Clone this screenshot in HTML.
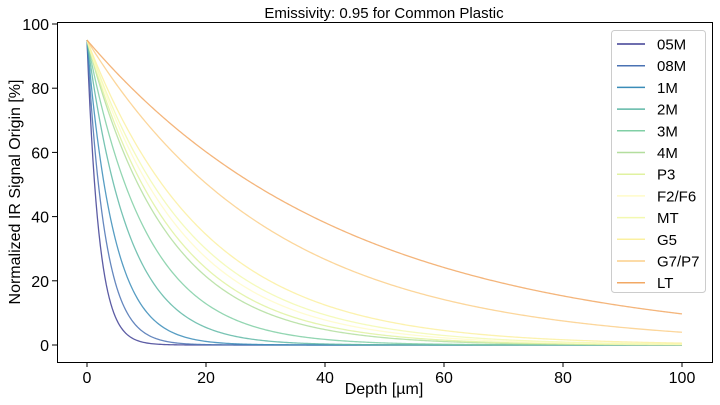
<!DOCTYPE html>
<html><head><meta charset="utf-8"><style>body{margin:0;background:#fff}svg{display:block}text{font-family:"Liberation Sans","DejaVu Sans",sans-serif;fill:#000}</style></head>
<body>
<svg id="s" width="720" height="405" viewBox="0 0 720 405" xmlns="http://www.w3.org/2000/svg">
<text x="384" y="18" font-size="15" text-anchor="middle">Emissivity: 0.95 for Common Plastic</text>
<g id="curves" fill="none" stroke-width="1.3" stroke-opacity="0.85"></g>
<rect x="57.5" y="22.5" width="655" height="340" fill="none" stroke="#000" stroke-width="1"/>
<g id="ticks" font-size="16"></g>
<text x="384" y="394" font-size="16" text-anchor="middle">Depth [µm]</text>
<text transform="translate(20,192) rotate(-90)" font-size="16" text-anchor="middle">Normalized IR Signal Origin [%]</text>
<rect x="611.5" y="30.5" width="94" height="262" rx="3" fill="#fff" fill-opacity="0.8" stroke="#ccc"/>
<g id="leg" font-size="15"></g>
</svg>
<script>
var X=function(v){return 87+5.95*v},Y=function(v){return 345-3.21*v};
var S=[["05M",2,"#3f3f94"],["08M",3,"#4a72b3"],["1M",4.5,"#3a8cb8"],["2M",7,"#5fb8a6"],["3M",10,"#80cfa5"],["4M",13.4,"#b3de9e"],["P3",14.5,"#e0f2a0"],["F2/F6",16,"#fffbc8"],["MT",17.3,"#f3f9b0"],["G5",19.7,"#fbf0a0"],["G7/P7",31.5,"#fccf8a"],["LT",43.8,"#f2a864"]];
var ns="http://www.w3.org/2000/svg",c=document.getElementById("curves"),l=document.getElementById("leg"),t=document.getElementById("ticks");
function el(n,a,p,txt){var e=document.createElementNS(ns,n);for(var k in a)e.setAttribute(k,a[k]);if(txt!==undefined)e.textContent=String(txt);p.appendChild(e);return e;}
S.forEach(function(s,i){var d="";for(var x=0;x<=100;x+=0.25){d+=(x?"L":"M")+X(x).toFixed(2)+","+Y(95*Math.exp(-x/s[1])).toFixed(2);}
el("path",{d:d,stroke:s[2]},c);var y=44+21.7*i;el("line",{x1:617,x2:645,y1:y,y2:y,stroke:s[2],"stroke-width":1.5},l);el("text",{x:657,y:y+5.5},l,s[0]);});
for(var v=0;v<=100;v+=20){el("line",{x1:X(v),x2:X(v),y1:362,y2:367,stroke:"#000"},t);el("text",{x:X(v),y:383,"text-anchor":"middle"},t,v);
el("line",{x1:52,x2:57,y1:Y(v),y2:Y(v),stroke:"#000"},t);el("text",{x:49,y:Y(v)+6,"text-anchor":"end"},t,v);}
</script>
</body></html>
